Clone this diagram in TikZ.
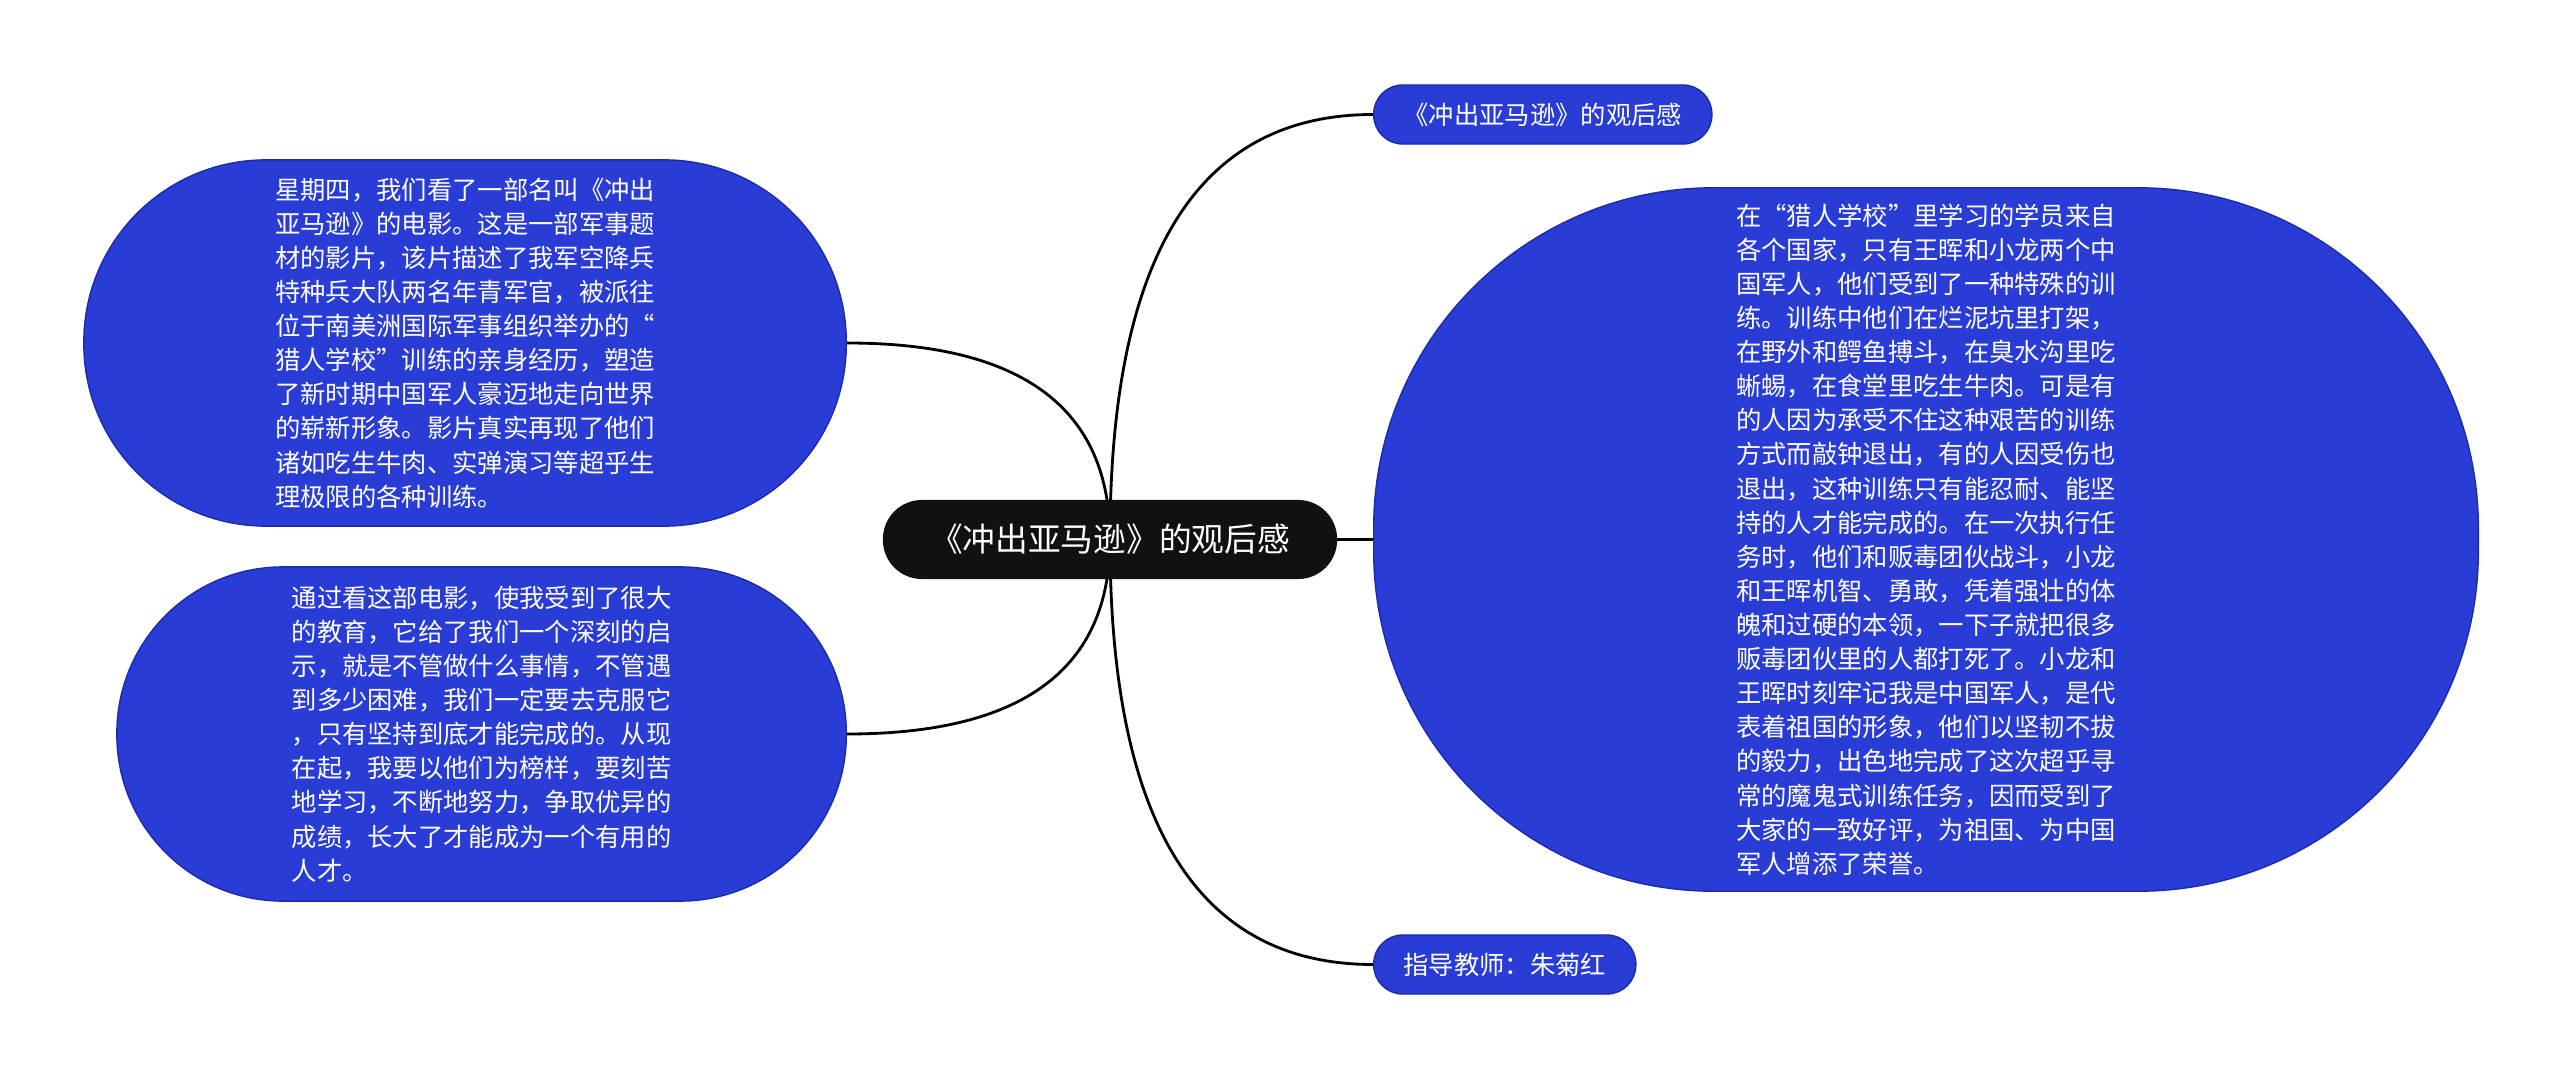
\documentclass[tikz,border=0pt]{standalone}
\usepackage{fontspec}
\newfontfamily\cjk{Noto Sans CJK SC}
\usepackage{xcolor}
\usetikzlibrary{calc, backgrounds}
\definecolor{cardblue}{RGB}{41,61,214}
\definecolor{cardedge}{RGB}{28,42,170}
\definecolor{hubblack}{RGB}{17,17,17}

\begin{document}
\begin{tikzpicture}[x=0.01cm, y=-0.01cm,
  card/.style={rectangle, fill=cardblue, draw=cardedge, line width=0.4pt, text=white,
    align=left, inner sep=0pt, font=\cjk\fontsize{7.2pt}{9.7pt}\selectfont},
  hub/.style={rectangle, fill=hubblack, text=white, inner sep=0pt,
    minimum width=4.54cm, minimum height=0.79cm, rounded corners=0.39cm,
    font=\cjk\fontsize{9.3pt}{11pt}\selectfont},
  branch/.style={to path={.. controls ($(\tikztostart)!0.667!(\tikztostart |- \tikztotarget)$)
    and ($(\tikztotarget)!0.667!(\tikztostart |- \tikztotarget)$) .. (\tikztotarget)}},
  link/.style={line width=0.8pt, black}]
  \useasboundingbox (0,0) rectangle (2560,1079);
  % centre
  \node[hub] (film) at (1110,539.5) {《冲出亚马逊》的观后感};
  % right side
  \node[card, anchor=west, minimum width=3.38cm, minimum height=0.59cm, rounded corners=0.29cm]
      (title) at (1373,114.5) {《冲出亚马逊》的观后感};
  \node[card, anchor=west, minimum width=11.04cm, minimum height=7.03cm, rounded corners=3.4cm]
      (story) at (1373,539.5) {在“猎人学校”里学习的学员来自\\各个国家，只有王晖和小龙两个中\\国军人，他们受到了一种特殊的训\\练。训练中他们在烂泥坑里打架，\\在野外和鳄鱼搏斗，在臭水沟里吃\\蜥蜴，在食堂里吃生牛肉。可是有\\的人因为承受不住这种艰苦的训练\\方式而敲钟退出，有的人因受伤也\\退出，这种训练只有能忍耐、能坚\\持的人才能完成的。在一次执行任\\务时，他们和贩毒团伙战斗，小龙\\和王晖机智、勇敢，凭着强壮的体\\魄和过硬的本领，一下子就把很多\\贩毒团伙里的人都打死了。小龙和\\王晖时刻牢记我是中国军人，是代\\表着祖国的形象，他们以坚韧不拔\\的毅力，出色地完成了这次超乎寻\\常的魔鬼式训练任务，因而受到了\\大家的一致好评，为祖国、为中国\\军人增添了荣誉。};
  \node[card, anchor=west, minimum width=2.62cm, minimum height=0.59cm, rounded corners=0.29cm]
      (teacher) at (1373,964.5) {指导教师：朱菊红};
  % left side
  \node[card, anchor=east, minimum width=7.62cm, minimum height=3.66cm, rounded corners=1.82cm]
      (plot) at (847,343) {星期四，我们看了一部名叫《冲出\\亚马逊》的电影。这是一部军事题\\材的影片，该片描述了我军空降兵\\特种兵大队两名年青军官，被派往\\位于南美洲国际军事组织举办的“\\猎人学校”训练的亲身经历，塑造\\了新时期中国军人豪迈地走向世界\\的崭新形象。影片真实再现了他们\\诸如吃生牛肉、实弹演习等超乎生\\理极限的各种训练。};
  \node[card, anchor=east, minimum width=7.29cm, minimum height=3.34cm, rounded corners=1.66cm]
      (lesson) at (847,734) {通过看这部电影，使我受到了很大\\的教育，它给了我们一个深刻的启\\示，就是不管做什么事情，不管遇\\到多少困难，我们一定要去克服它\\，只有坚持到底才能完成的。从现\\在起，我要以他们为榜样，要刻苦\\地学习，不断地努力，争取优异的\\成绩，长大了才能成为一个有用的\\人才。};
  % connectors
  \begin{scope}[on background layer]
    \fill[white] (0,0) rectangle (2560,1079);
    \draw[link] (film.center) to[branch] (title.west);
    \draw[link] (film.center) to[branch] (story.west);
    \draw[link] (film.center) to[branch] (teacher.west);
    \draw[link] (film.center) to[branch] (plot.east);
    \draw[link] (film.center) to[branch] (lesson.east);
  \end{scope}
\end{tikzpicture}
\end{document}
